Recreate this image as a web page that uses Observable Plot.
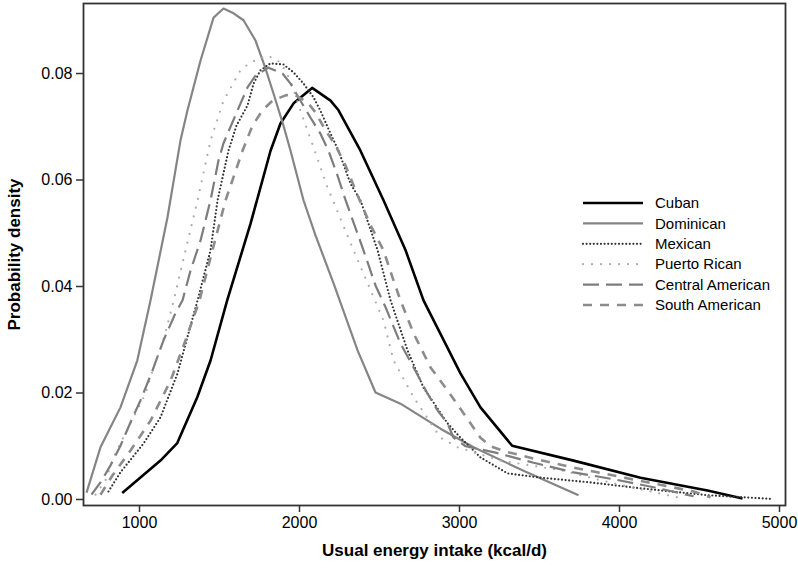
<!DOCTYPE html>
<html>
<head>
<meta charset="utf-8">
<script src="https://cdn.jsdelivr.net/npm/d3@7"></script>
<script src="https://cdn.jsdelivr.net/npm/@observablehq/plot@0.6"></script>
<style>
  html, body { margin: 0; padding: 0; background: #fff; }
  #wrap { position: relative; width: 798px; height: 568px; }
  #legend { position: absolute; left: 0; top: 0; pointer-events: none; }
</style>
</head>
<body>
<div id="wrap"></div>
<script>
// ---- data ----
const groups = ["Cuban", "Dominican", "Mexican", "Puerto Rican", "Central American", "South American"];
const energyTicks = [1000, 2000, 3000, 4000, 5000];
const densityTicks = [0, 0.02, 0.04, 0.06, 0.08];

const cubanEnergy  = [892, 1131, 1236, 1361, 1444, 1548, 1694, 1819, 1881, 1963, 2079, 2194, 2244, 2381, 2525, 2663, 2775, 3006, 3131, 3329, 3713, 4131, 4550, 4769];
const cubanDensity = [0.0012, 0.0073, 0.0106, 0.0192, 0.0261, 0.0374, 0.0518, 0.0655, 0.0706, 0.0744, 0.0773, 0.0749, 0.0731, 0.0655, 0.0562, 0.0468, 0.0374, 0.0237, 0.0173, 0.0101, 0.0073, 0.0041, 0.0017, 0.0002];

const dominicanEnergy  = [669, 756, 881, 986, 1069, 1175, 1256, 1300, 1381, 1463, 1525, 1588, 1650, 1725, 1788, 1838, 1900, 1944, 2025, 2100, 2213, 2363, 2475, 2631, 2881, 3088, 3400, 3744];
const dominicanDensity = [0.0013, 0.0098, 0.0173, 0.0261, 0.0374, 0.0530, 0.0674, 0.0731, 0.0824, 0.0905, 0.0922, 0.0913, 0.0900, 0.0862, 0.0809, 0.0762, 0.0702, 0.0655, 0.0562, 0.0496, 0.0406, 0.0280, 0.0201, 0.0180, 0.0133, 0.0098, 0.0054, 0.0008];

const mexicanEnergy  = [806, 881, 1025, 1131, 1238, 1306, 1363, 1444, 1488, 1556, 1606, 1675, 1713, 1756, 1819, 1900, 1963, 2025, 2088, 2131, 2194, 2244, 2319, 2381, 2488, 2569, 2675, 2775, 2925, 3006, 3131, 3300, 3506, 3819, 4131, 4550, 4956];
const mexicanDensity = [0.0015, 0.0051, 0.0105, 0.0154, 0.0237, 0.0312, 0.0374, 0.0468, 0.0562, 0.0655, 0.0702, 0.0740, 0.0781, 0.0806, 0.0819, 0.0817, 0.0802, 0.0781, 0.0755, 0.0730, 0.0687, 0.0655, 0.0593, 0.0562, 0.0468, 0.0374, 0.0280, 0.0210, 0.0143, 0.0116, 0.0079, 0.0049, 0.0041, 0.0032, 0.0021, 0.0008, 0.0001];

const puertoRicanEnergy  = [725, 788, 837, 912, 962, 1038, 1088, 1144, 1206, 1288, 1363, 1444, 1525, 1631, 1694, 1800, 1881, 1944, 2006, 2088, 2175, 2338, 2525, 2588, 2713, 2881, 2988, 3256, 3650, 3881, 4131, 4363];
const puertoRicanDensity = [0.0009, 0.0036, 0.0079, 0.0124, 0.0154, 0.0199, 0.0248, 0.0293, 0.0364, 0.0468, 0.0562, 0.0674, 0.0749, 0.0806, 0.0821, 0.0834, 0.0821, 0.0787, 0.0730, 0.0661, 0.0586, 0.0468, 0.0336, 0.0261, 0.0192, 0.0116, 0.0098, 0.0073, 0.0054, 0.0036, 0.0019, 0.0004];

const centralAmericanEnergy  = [700, 756, 819, 881, 944, 1006, 1081, 1150, 1219, 1269, 1319, 1381, 1444, 1494, 1525, 1613, 1675, 1725, 1806, 1894, 1944, 1994, 2069, 2131, 2181, 2238, 2288, 2400, 2475, 2538, 2631, 2713, 2800, 2863, 2925, 2963, 3038, 3225, 3463, 3713, 3963, 4213, 4463];
const centralAmericanDensity = [0.0009, 0.0032, 0.0064, 0.0101, 0.0145, 0.0186, 0.0242, 0.0299, 0.0346, 0.0374, 0.0430, 0.0486, 0.0562, 0.0637, 0.0669, 0.0731, 0.0774, 0.0796, 0.0811, 0.0800, 0.0781, 0.0755, 0.0717, 0.0687, 0.0655, 0.0608, 0.0562, 0.0468, 0.0402, 0.0361, 0.0293, 0.0248, 0.0199, 0.0167, 0.0143, 0.0116, 0.0100, 0.0088, 0.0069, 0.0051, 0.0038, 0.0023, 0.0006];

const southAmericanEnergy  = [756, 831, 944, 1069, 1194, 1288, 1375, 1456, 1538, 1644, 1706, 1769, 1831, 1913, 1963, 2050, 2100, 2163, 2225, 2288, 2363, 2444, 2525, 2588, 2631, 2713, 2819, 2925, 3025, 3131, 3194, 3288, 3463, 3713, 3963, 4213, 4463, 4569];
const southAmericanDensity = [0.0009, 0.0045, 0.0092, 0.0148, 0.0223, 0.0299, 0.0374, 0.0468, 0.0562, 0.0655, 0.0702, 0.0731, 0.0749, 0.0759, 0.0761, 0.0746, 0.0727, 0.0693, 0.0665, 0.0627, 0.0571, 0.0515, 0.0468, 0.0411, 0.0374, 0.0312, 0.0248, 0.0205, 0.0162, 0.0116, 0.0100, 0.0090, 0.0077, 0.0060, 0.0045, 0.0030, 0.0015, 0.0004];

const energyBySeries  = [cubanEnergy, dominicanEnergy, mexicanEnergy, puertoRicanEnergy, centralAmericanEnergy, southAmericanEnergy];
const densityBySeries = [cubanDensity, dominicanDensity, mexicanDensity, puertoRicanDensity, centralAmericanDensity, southAmericanDensity];

// ---- styles ----
const lineStyles = {
  "Cuban":            {stroke: "#000000", strokeWidth: 2.6, dash: null,   cap: "butt"},
  "Dominican":        {stroke: "#858585", strokeWidth: 2.2, dash: null,   cap: "butt"},
  "Mexican":          {stroke: "#333333", strokeWidth: 2.2, dash: "0,3.6", cap: "round"},
  "Puerto Rican":     {stroke: "#ababab", strokeWidth: 2.2, dash: "0,9",   cap: "round"},
  "Central American": {stroke: "#7d7d7d", strokeWidth: 2.2, dash: "16,7",  cap: "butt"},
  "South American":   {stroke: "#8c8c8c", strokeWidth: 2.6, dash: "9,8",   cap: "butt"}
};

const rows = groups.flatMap((g, i) => energyBySeries[i].map((e, j) => ({group: g, energy: e, density: densityBySeries[i][j]})));

const font = "'Liberation Sans', Arial, sans-serif";

const chart = Plot.plot({
  width: 798,
  height: 568,
  marginLeft: 83,
  marginRight: 13,
  marginTop: 3,
  marginBottom: 63,
  style: {fontFamily: font, fontSize: "16px", color: "#000", background: "#fff"},
  x: {domain: [650, 5037.5], ticks: energyTicks, tickFormat: d3.format("d"), tickSize: 7, tickPadding: 4,
      label: "Usual energy intake (kcal/d)", labelAnchor: "center", labelArrow: "none", labelOffset: 50},
  y: {domain: [-0.00113, 0.09315], ticks: densityTicks, tickFormat: d3.format(".2f"), tickSize: 7, tickPadding: 4,
      label: "Probability density", labelAnchor: "center", labelArrow: "none", labelOffset: 76},
  marks: [
    ...groups.map(g => {
      const s = lineStyles[g];
      return Plot.line(rows.filter(r => r.group === g), {
        x: "energy", y: "density", stroke: s.stroke, strokeWidth: s.strokeWidth,
        strokeDasharray: s.dash, strokeLinecap: s.cap, strokeLinejoin: "round"
      });
    }),
    Plot.frame({stroke: "#333", strokeWidth: 1.8})
  ]
});

d3.select(chart).selectAll('[aria-label="x-axis label"] text, [aria-label="y-axis label"] text')
  .attr("font-weight", "bold").attr("font-size", "17px");
d3.select(chart).selectAll('[aria-label="x-axis tick"] path, [aria-label="y-axis tick"] path')
  .attr("stroke", "#333").attr("stroke-width", 1.5);

const wrap = document.getElementById("wrap");
wrap.appendChild(chart);

// ---- legend (inside the plot area) ----
const leg = d3.select(wrap).append("svg").attr("id", "legend").attr("width", 798).attr("height", 568);
const legendTop = 203, legendStep = 20.4, sampleX0 = 583, sampleX1 = 643, textX = 655;
groups.forEach((g, i) => {
  const s = lineStyles[g];
  const yy = legendTop + i * legendStep;
  leg.append("line").attr("x1", sampleX0).attr("x2", sampleX1).attr("y1", yy).attr("y2", yy)
    .attr("stroke", s.stroke).attr("stroke-width", s.strokeWidth)
    .attr("stroke-dasharray", s.dash).attr("stroke-linecap", s.cap);
  leg.append("text").attr("x", textX).attr("y", yy).attr("dy", "0.35em")
    .attr("font-family", "'Liberation Sans', Arial, sans-serif").attr("font-size", "15px")
    .attr("fill", "#000").text(g);
});
</script>
</body>
</html>
